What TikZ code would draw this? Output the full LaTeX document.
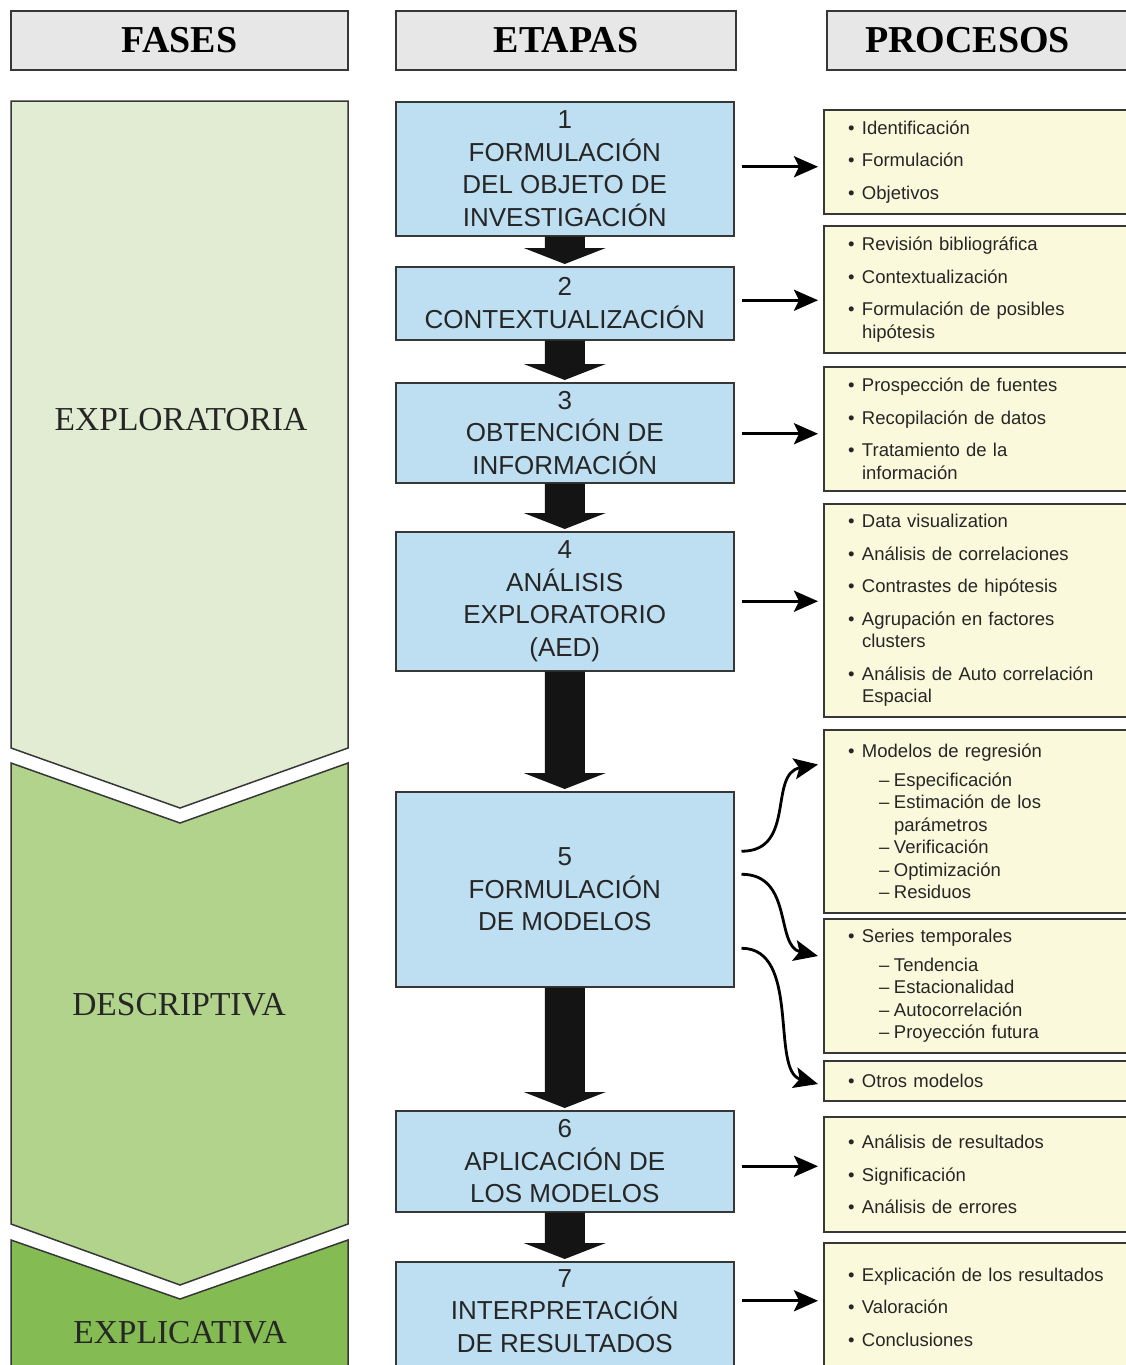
\documentclass[tikz,border=0pt]{standalone}
\usepackage{fontspec}
\setmainfont{Liberation Sans}
\newfontfamily\headfont{Liberation Serif}
\usetikzlibrary{arrows.meta, calc, positioning}

\definecolor{headgrey}{RGB}{231,231,231}
\definecolor{etablue}{RGB}{190,223,242}
\definecolor{procyellow}{RGB}{251,249,219}
\definecolor{greenA}{RGB}{226,236,211}
\definecolor{greenB}{RGB}{177,211,140}
\definecolor{greenC}{RGB}{132,188,83}
\definecolor{edge}{RGB}{55,55,55}

% list helpers for the process boxes
\newcommand{\bul}{\makebox[14pt][l]{\textbullet}}
\newcommand{\cont}{\hspace*{14pt}}
\newcommand{\subit}{\hspace*{31pt}\makebox[15pt][l]{--}}
\newcommand{\subcont}{\hspace*{46pt}}
% thick black arrow between two stages
\newcommand{\fatarrow}[2]{%
  \fill[black!92] ($(#1.south)+(-20,0)$) -- ($(#2.north)+(-20,-18)$) -- ($(#2.north)+(-41,-18)$)
    -- ($(#2.north)+(0,-2)$) -- ($(#2.north)+(41,-18)$) -- ($(#2.north)+(20,-18)$)
    -- ($(#1.south)+(20,0)$) -- cycle;}

\begin{document}
\begin{tikzpicture}[x=1pt, y=-1pt,
  head/.style={draw=edge, line width=2pt, fill=headgrey, anchor=north west, minimum height=59pt,
    font=\headfont\bfseries\fontsize{38}{40}\selectfont},
  phase/.style={draw=edge, line width=1.5pt},
  phaselabel/.style={font=\headfont\fontsize{33.5}{36}\selectfont, text=black!85},
  etapa/.style={draw=edge, line width=1.5pt, fill=etablue, anchor=north west, minimum width=338pt,
    inner ysep=2pt, align=center, text=black!85, font=\fontsize{26}{32.5}\selectfont},
  proc/.style={draw=edge, line width=2pt, fill=procyellow, anchor=north west, text width=300pt,
    inner xsep=24pt, inner ysep=2pt, align=left, text=black!85, font=\fontsize{18.5}{22.5}\selectfont},
  thinarr/.style={line width=2.8pt, -{Stealth[length=24pt, width=21pt, inset=5pt]}}]
  \path[use as bounding box] (0,0) rectangle (1126,1365);
  \clip (0,0) rectangle (1126,1365);
  \fill[white] (0,0) rectangle (1126,1365);

  % column headers
  \node[head, minimum width=337pt] (hfases) at (10,10) {FASES};
  \node[head, minimum width=340pt] (hetapas) at (395,10) {ETAPAS};
  \node[head, minimum width=320pt, text width=280pt, align=left] (hproc) at (826,10) {\hspace*{18pt}PROCESOS};

  % phases as chevrons
  \draw[phase, fill=greenA] (11,101) -- (348,101) -- (348,748) -- (180,808) -- (11,748) -- cycle;
  \draw[phase, fill=greenB] (11,763) -- (180,823) -- (348,763) -- (348,1224) -- (180,1285) -- (11,1224) -- cycle;
  \draw[phase, fill=greenC] (11,1240) -- (180,1299) -- (348,1240) -- (348,1380) -- (11,1380) -- cycle;
  \node[phaselabel] (fexp) at (181,420) {EXPLORATORIA};
  \node[phaselabel] (fdes) at (179,1005) {DESCRIPTIVA};
  \node[phaselabel] (fexpl) at (180,1333) {EXPLICATIVA};

  % stages
  \node[etapa, minimum height=134pt] (e1) at (395,101) {1\\FORMULACIÓN\\DEL OBJETO DE\\INVESTIGACIÓN};
  \node[etapa, minimum height=73pt] (e2) at (395,266) {2\\CONTEXTUALIZACIÓN};
  \node[etapa, minimum height=100pt] (e3) at (395,382) {3\\OBTENCIÓN DE\\INFORMACIÓN};
  \node[etapa, minimum height=139pt] (e4) at (395,531) {4\\ANÁLISIS\\EXPLORATORIO\\(AED)};
  \node[etapa, minimum height=195pt] (e5) at (395,791) {5\\FORMULACIÓN\\DE MODELOS};
  \node[etapa, minimum height=101pt] (e6) at (395,1110) {6\\APLICACIÓN DE\\LOS MODELOS};
  \node[etapa, minimum height=140pt] (e7) at (395,1261) {7\\INTERPRETACIÓN\\DE RESULTADOS\\\strut};

  % processes
  \node[proc, minimum height=104pt] (p1) at (823,109)
    {\bul Identificación\\[10pt] \bul Formulación\\[10pt] \bul Objetivos};
  \node[proc, minimum height=127pt] (p2) at (823,225)
    {\bul Revisión bibliográfica\\[10pt] \bul Contextualización\\[10pt] \bul Formulación de posibles\\ \cont hipótesis};
  \node[proc, minimum height=124pt] (p3) at (823,366)
    {\bul Prospección de fuentes\\[10pt] \bul Recopilación de datos\\[10pt] \bul Tratamiento de la\\ \cont información};
  \node[proc, minimum height=213pt] (p4) at (823,503)
    {\bul Data visualization\\[10pt] \bul Análisis de correlaciones\\[10pt] \bul Contrastes de hipótesis\\[10pt]
     \bul Agrupación en factores\\ \cont clusters\\[10pt] \bul Análisis de Auto correlación\\ \cont Espacial};
  \node[proc, minimum height=183pt] (p5a) at (823,729)
    {\bul Modelos de regresión\\[6pt] \subit Especificación\\ \subit Estimación de los\\ \subcont parámetros\\
     \subit Verificación\\ \subit Optimización\\ \subit Residuos};
  \node[proc, minimum height=134pt] (p5b) at (823,918)
    {\bul Series temporales\\[6pt] \subit Tendencia\\ \subit Estacionalidad\\ \subit Autocorrelación\\ \subit Proyección futura};
  \node[proc, minimum height=40pt] (p5c) at (823,1060) {\bul Otros modelos};
  \node[proc, minimum height=115pt] (p6) at (823,1116)
    {\bul Análisis de resultados\\[10pt] \bul Significación\\[10pt] \bul Análisis de errores};
  \node[proc, minimum height=128pt] (p7) at (823,1242)
    {\bul Explicación de los resultados\\[10pt] \bul Valoración\\[10pt] \bul Conclusiones};

  % stage to stage
  \foreach \a/\b in {e1/e2, e2/e3, e3/e4, e4/e5, e5/e6, e6/e7}{\fatarrow{\a}{\b}}

  % stage to processes
  \foreach \a/\b/\dy in {e1/p1/-2, e2/p2/-3, e3/p3/1, e4/p4/0, e6/p6/5, e7/p7/-31}{
    \draw[thinarr] ($(\a.east)+(7,\dy)$) -- ($(\a.east -| \b.west)+(-5,\dy)$);}
  \draw[thinarr] ($(e5.east)+(7,-38)$) .. controls +(55,0) and +(-50,9) .. ($(p5a.west)+(-5,-57)$);
  \draw[thinarr] ($(e5.east)+(7,-15)$) .. controls +(52,0) and +(-43,-10) .. ($(p5b.west)+(-5,-30)$);
  \draw[thinarr] ($(e5.east)+(7,59)$) .. controls +(60,0) and +(-48,-13) .. ($(p5c.west)+(-5,3)$);
\end{tikzpicture}
\end{document}
